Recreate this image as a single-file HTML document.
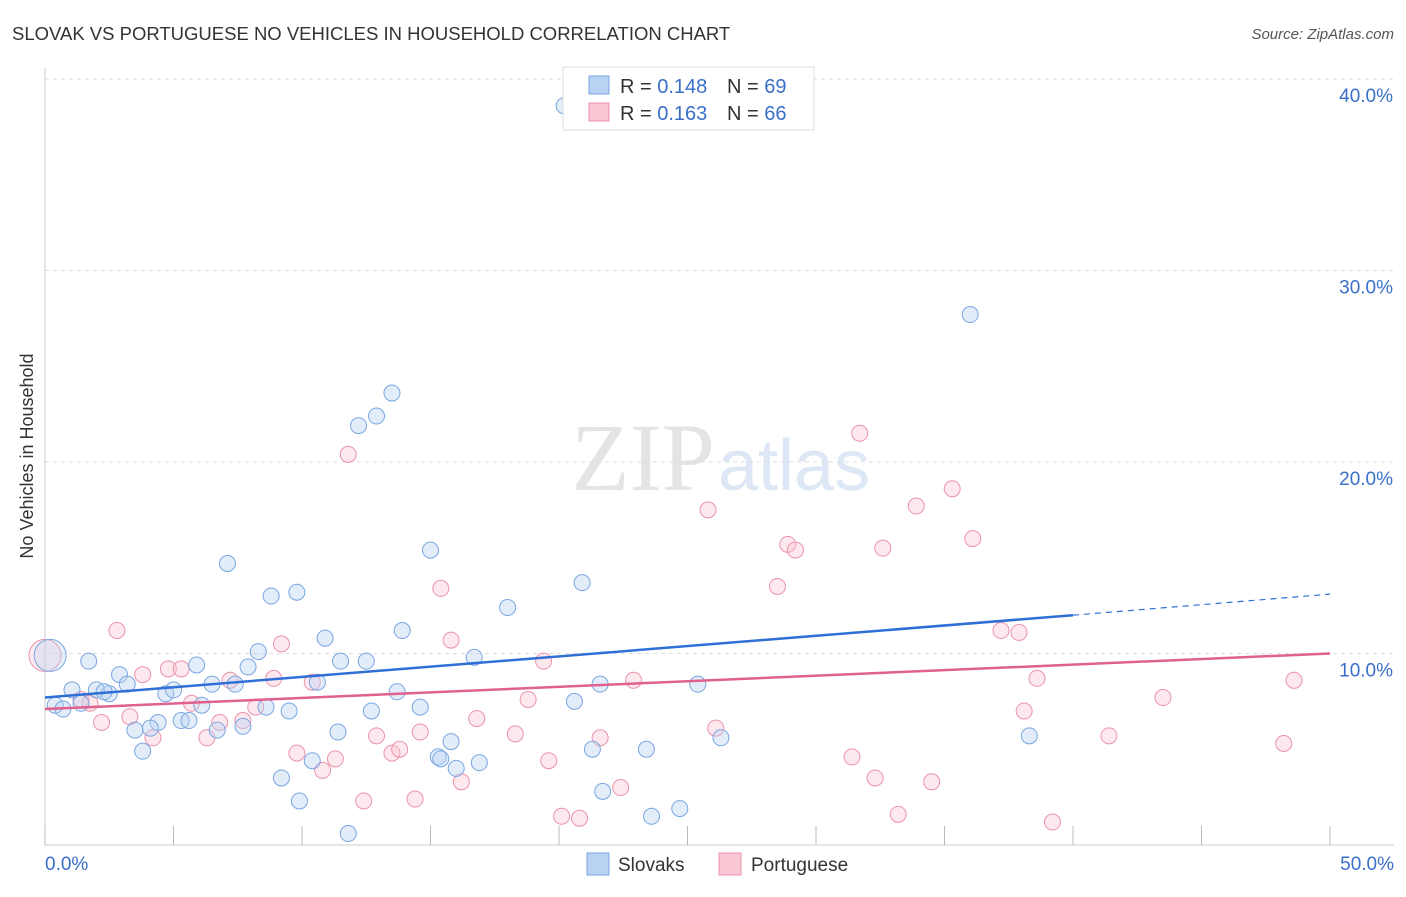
<!DOCTYPE html>
<html><head><meta charset="utf-8"><style>
body{margin:0;background:#fff;font-family:"Liberation Sans",sans-serif;}
svg text{font-family:"Liberation Sans",sans-serif;}
</style></head><body>
<svg width="1406" height="892" id="chart">
<text x="12" y="40" font-size="18.5" fill="#333">SLOVAK VS PORTUGUESE NO VEHICLES IN HOUSEHOLD CORRELATION CHART</text>
<text x="1394" y="39" font-size="15" fill="#555" text-anchor="end" font-style="italic">Source: ZipAtlas.com</text>
<text x="33" y="456" font-size="18" fill="#333" text-anchor="middle" transform="rotate(-90 33 456)">No Vehicles in Household</text>
<text x="715" y="490" font-size="96" fill="#e4e4e4" text-anchor="end" style="font-family:'Liberation Serif',serif">ZIP</text>
<text x="718" y="490" font-size="72" fill="#dde7f5">atlas</text>
<g id="grid"></g><g id="pts"></g><g id="lines"></g>
<g>
<rect x="563" y="67" width="251" height="63" fill="#fff" stroke="#ddd"/>
<rect x="589" y="76" width="20" height="18" fill="#b8d2f3" stroke="#7aa6e0"/>
<rect x="589" y="103" width="20" height="18" fill="#f9c6d4" stroke="#eb93ac"/>
<text x="620" y="93" font-size="20" fill="#333">R = <tspan fill="#3a6fc9">0.148</tspan></text>
<text x="727" y="93" font-size="20" fill="#333">N = <tspan fill="#3a6fc9">69</tspan></text>
<text x="620" y="120" font-size="20" fill="#333">R = <tspan fill="#3a6fc9">0.163</tspan></text>
<text x="727" y="120" font-size="20" fill="#333">N = <tspan fill="#3a6fc9">66</tspan></text>
</g>
<g>
<rect x="587" y="853" width="22" height="22" fill="#b8d2f3" stroke="#7aa6e0"/>
<text x="618" y="871" font-size="19" fill="#333">Slovaks</text>
<rect x="719" y="853" width="22" height="22" fill="#f9c6d4" stroke="#eb93ac"/>
<text x="751" y="871" font-size="19" fill="#333">Portuguese</text>
</g>
</svg>
<script>
const yTicks=[10,20,30,40];
const xTickLabels=["0.0%","50.0%"];
const slovakX=[20.2,36.0,13.5,12.9,12.2,15.0,7.1,20.9,9.8,8.8,18.0,13.9,10.9,8.3,1.7,16.7,5.9,7.9,11.5,12.5,2.9,3.2,6.5,7.4,10.6,1.05,2.0,2.5,2.3,4.7,5.0,13.7,21.6,25.4,0.4,0.7,1.4,6.1,8.6,9.5,12.7,14.6,20.6,4.4,5.3,5.6,3.5,4.1,6.7,7.7,11.4,15.8,26.3,38.3,3.8,21.3,23.4,15.3,15.4,10.4,16.0,16.9,9.2,21.7,9.9,24.7,23.6,11.8,0.2];
const slovakY=[38.6,27.7,23.6,22.4,21.9,15.4,14.7,13.7,13.2,13.0,12.4,11.2,10.8,10.1,9.6,9.8,9.4,9.3,9.6,9.6,8.9,8.4,8.4,8.4,8.5,8.1,8.1,7.9,8.0,7.9,8.1,8.0,8.4,8.4,7.3,7.1,7.4,7.3,7.2,7.0,7.0,7.2,7.5,6.4,6.5,6.5,6.0,6.1,6.0,6.2,5.9,5.4,5.6,5.7,4.9,5.0,5.0,4.6,4.5,4.4,4.0,4.3,3.5,2.8,2.3,1.9,1.5,0.6,9.9];
const portX=[31.7,11.8,35.3,25.8,33.9,36.1,28.9,29.2,32.6,15.4,28.5,2.8,9.2,15.8,37.2,37.9,19.4,4.8,5.3,3.8,7.2,8.9,10.4,22.9,38.6,48.6,1.4,1.75,5.7,18.8,8.2,43.5,38.1,3.3,2.2,6.8,7.7,16.8,26.1,4.2,6.3,12.9,14.6,18.3,21.6,41.4,48.2,9.8,13.5,13.8,11.3,19.6,31.4,10.8,16.2,32.3,34.5,22.4,12.4,14.4,20.1,20.8,33.2,39.2,0.0];
const portY=[21.5,20.4,18.6,17.5,17.7,16.0,15.7,15.4,15.5,13.4,13.5,11.2,10.5,10.7,11.2,11.1,9.6,9.2,9.2,8.9,8.6,8.7,8.5,8.6,8.7,8.6,7.6,7.4,7.4,7.6,7.2,7.7,7.0,6.7,6.4,6.4,6.5,6.6,6.1,5.6,5.6,5.7,5.9,5.8,5.6,5.7,5.3,4.8,4.8,5.0,4.5,4.4,4.6,3.9,3.3,3.5,3.3,3.0,2.3,2.4,1.5,1.4,1.6,1.2,9.9];
const slovakTrend=[7.7,12.0,13.1];const slovakTrendX=[0,40,50];
const portTrend=[7.1,10.0];const portTrendX=[0,50];
const NS="http://www.w3.org/2000/svg";
const X=v=>45+v/50*1285, Y=v=>845-v/10*191.5;
function mk(t,a,p){const e=document.createElementNS(NS,t);for(const k in a)e.setAttribute(k,a[k]);document.getElementById(p).appendChild(e);return e;}
yTicks.forEach(t=>{
 const l=mk('line',{x1:45,x2:1394,y1:Y(t),y2:Y(t),stroke:'#ddd','stroke-dasharray':'4,4'},'grid');
 
 
 const tx=mk('text',{x:1393,y:Y(t)+23,'font-size':19,fill:'#3a6fc9','text-anchor':'end'},'grid');tx.textContent=t.toFixed(1)+'%';
 
 
});
const ax=mk('line',{x1:45,x2:45,y1:68,y2:845,stroke:'#ccc'},'grid');


const bx=mk('line',{x1:45,x2:1394,y1:845,y2:845,stroke:'#ccc'},'grid');


for(let i=0;i<=10;i++){const t=mk('line',{x1:X(i*5),x2:X(i*5),y1:826,y2:845,stroke:'#bbb'},'grid');
 
 }
[[0,'start',45],[50,'end',1394]].forEach((d,i)=>{const t=mk('text',{x:d[2],y:870,'font-size':19,fill:'#3a6fc9','text-anchor':d[1]},'grid');t.textContent=xTickLabels[i];
 
 });
function pts(xs,ys,fill,stroke,name){xs.forEach((x,i)=>{const big=i===xs.length-1;
 const c=mk('circle',{cx:X(x),cy:Y(ys[i]),r:big?16:8,fill:fill,'fill-opacity':big?0.35:0.4,stroke:stroke,'stroke-width':1},'pts');
 
 });}
pts(portX,portY,'#f9c6d4','#eb93ac','portuguese-point');
pts(slovakX,slovakY,'#b8d2f3','#7aa6e0','slovak-point');
let l=mk('line',{x1:X(slovakTrendX[0]),y1:Y(slovakTrend[0]),x2:X(slovakTrendX[1]),y2:Y(slovakTrend[1]),stroke:'#2f6fd6','stroke-width':2.5},'lines');


l=mk('line',{x1:X(slovakTrendX[1]),y1:Y(slovakTrend[1]),x2:X(slovakTrendX[2]),y2:Y(slovakTrend[2]),stroke:'#2f6fd6','stroke-width':1.2,'stroke-dasharray':'6,5'},'lines');


l=mk('line',{x1:X(portTrendX[0]),y1:Y(portTrend[0]),x2:X(portTrendX[1]),y2:Y(portTrend[1]),stroke:'#e0608e','stroke-width':2.5},'lines');


</script>
</body></html>
